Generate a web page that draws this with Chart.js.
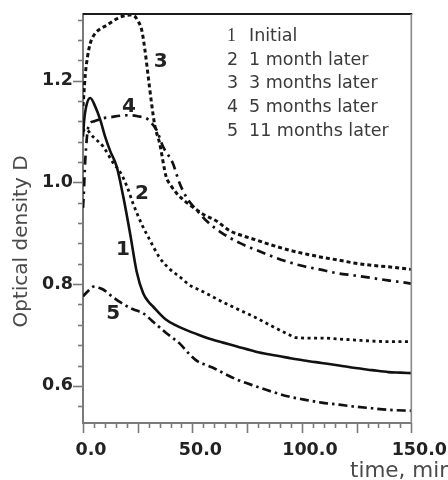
<!DOCTYPE html>
<html>
<head>
<meta charset="utf-8">
<script src="https://cdn.jsdelivr.net/npm/chart.js@4"></script>
<style>
html,body{margin:0;padding:0;background:#fff;}
#c{display:block;}
</style>
</head>
<body>
<canvas id="c" width="448" height="480"></canvas>
<script>
// ---- data (time in min, optical density D) ----
const seriesNames = ["Initial", "1 month later", "3 months later", "5 months later", "11 months later"];
const seriesNumbers = ["1", "2", "3", "4", "5"];

const t1 = [0, 0.5, 1.5, 3.3, 5.6, 7.9, 10.1, 12.4, 15.4, 18.4, 21.5, 24.5, 27.5, 30, 32, 35, 38, 42, 47, 53, 59, 64, 70, 79, 86, 94, 101, 109, 117, 124.5, 132, 139.5, 145, 150];
const d1 = [1.09, 1.12, 1.15, 1.166, 1.149, 1.123, 1.09, 1.062, 1.031, 0.972, 0.9, 0.825, 0.782, 0.765, 0.756, 0.742, 0.73, 0.72, 0.71, 0.70, 0.691, 0.685, 0.678, 0.667, 0.661, 0.655, 0.65, 0.645, 0.64, 0.635, 0.631, 0.627, 0.626, 0.625];

const t2 = [0, 1, 4.7, 9.3, 13.8, 17, 20, 23, 26.8, 30.5, 35, 40, 44, 48.7, 53, 58, 63.7, 70, 79, 86, 94, 97, 103, 109, 117, 124.5, 132, 139.5, 150];
const d2 = [1.1, 1.105, 1.089, 1.07, 1.038, 1.02, 0.993, 0.957, 0.918, 0.887, 0.852, 0.828, 0.815, 0.798, 0.789, 0.778, 0.765, 0.752, 0.734, 0.718, 0.701, 0.695, 0.694, 0.694, 0.692, 0.69, 0.688, 0.687, 0.687];

const t3 = [0, 0.5, 1, 2, 3.3, 5.6, 8, 10.9, 14, 17, 19.5, 21.5, 23.5, 25, 26.8, 28.3, 29.8, 31.3, 32.8, 35, 38, 40, 42.7, 46, 50, 55, 61, 67, 73, 79, 86, 94, 101, 109, 117, 124.5, 132, 139.5, 150];
const d3 = [1.15, 1.18, 1.21, 1.245, 1.273, 1.293, 1.302, 1.309, 1.318, 1.325, 1.328, 1.329, 1.327, 1.318, 1.3, 1.26, 1.208, 1.156, 1.112, 1.077, 1.011, 0.995, 0.979, 0.965, 0.952, 0.937, 0.924, 0.905, 0.895, 0.887, 0.877, 0.867, 0.86, 0.853, 0.847, 0.841, 0.837, 0.834, 0.829];

const t4 = [0, 0.3, 1, 2.5, 5, 9, 12.4, 17, 21, 25, 29, 31, 33.6, 36.6, 41, 44, 47.2, 52, 57, 63.7, 71.5, 78, 85, 92, 100, 108, 115.5, 124, 132, 140, 148.6, 150];
const d4 = [0.95, 0.972, 1.041, 1.11, 1.12, 1.126, 1.128, 1.131, 1.132, 1.13, 1.126, 1.118, 1.103, 1.07, 1.038, 1.0, 0.971, 0.945, 0.922, 0.9, 0.881, 0.869, 0.857, 0.846, 0.836, 0.829, 0.822, 0.817, 0.812, 0.807, 0.802, 0.801];

const t5 = [0, 2, 4.8, 7, 9.4, 12, 15.4, 18, 21.5, 24.5, 27.4, 30, 32, 35, 38, 41, 44, 48.7, 52.4, 56.3, 59.2, 63.7, 70, 79, 86, 94, 101, 109, 117, 124.5, 132, 139.5, 150];
const d5 = [0.776, 0.785, 0.795, 0.793, 0.789, 0.78, 0.769, 0.762, 0.753, 0.748, 0.743, 0.734, 0.726, 0.715, 0.704, 0.694, 0.684, 0.662, 0.648, 0.641, 0.636, 0.626, 0.613, 0.599, 0.589, 0.579, 0.573, 0.567, 0.563, 0.559, 0.556, 0.553, 0.551];

// tick labels
const xTickLabels = [0, 50, 100, 150];
const yTickLabels = [0.6, 0.8, 1.0, 1.2];

// curve number annotations (anchor in data units)
const curveLabelT = [18.3, 26.9, 35.5, 21, 13.8];
const curveLabelD = [0.871, 0.981, 1.241, 1.152, 0.746];

const toXY = (t, d) => t.map((v, i) => ({x: v, y: d[i]}));

const styles = [
  {borderDash: [], borderWidth: 2.6},
  {borderDash: [3, 3.5], borderWidth: 2.8},
  {borderDash: [4, 3], borderWidth: 3},
  {borderDash: [9, 5, 2.5, 5], borderWidth: 2.7},
  {borderDash: [9, 4, 2.5, 4], borderWidth: 2.7}
];
const allT = [t1, t2, t3, t4, t5];
const allD = [d1, d2, d3, d4, d5];

const datasets = allT.map((t, i) => Object.assign({
  label: seriesNames[i],
  data: toXY(t, allD[i]),
  borderColor: '#111',
  backgroundColor: '#111',
  pointRadius: 0,
  fill: false,
  cubicInterpolationMode: 'monotone',
  borderCapStyle: 'butt'
}, styles[i]));

const tickFont = {family: 'DejaVu Sans', weight: 'bold', size: 17.5};

const decor = {
  id: 'decor',
  afterDraw(chart) {
    const ctx = chart.ctx;
    const a = chart.chartArea;
    const xs = chart.scales.x, ys = chart.scales.y;
    ctx.save();
    // top frame line
    ctx.strokeStyle = '#1a1a1a';
    ctx.lineWidth = 2.2;
    ctx.beginPath(); ctx.moveTo(a.left, a.top); ctx.lineTo(a.right + 1, a.top); ctx.stroke();
    // right frame line
    ctx.strokeStyle = '#8a8a8a';
    ctx.lineWidth = 1.6;
    ctx.beginPath(); ctx.moveTo(a.right, a.top); ctx.lineTo(a.right, a.bottom); ctx.stroke();
    // y ticks (minor every 0.04, major every 0.2)
    ctx.strokeStyle = '#7a7a7a';
    ctx.lineWidth = 1.6;
    for (let k = -1; k <= 18; k++) {
      const v = 0.6 + k * 0.04;
      if (v < ys.min - 1e-9 || v > ys.max + 1e-9) continue;
      const major = (k % 5 === 0);
      const py = Math.round(ys.getPixelForValue(v)) + 0.5;
      ctx.beginPath(); ctx.moveTo(a.left - (major ? 10 : 5), py); ctx.lineTo(a.left, py); ctx.stroke();
    }
    // x ticks (minor every 5, major every 25)
    for (let v = 0; v <= 150; v += 5) {
      const major = (v % 25 === 0);
      const px = Math.round(xs.getPixelForValue(v)) + 0.5;
      ctx.beginPath(); ctx.moveTo(px, a.bottom); ctx.lineTo(px, a.bottom + (major ? 10 : 5)); ctx.stroke();
    }
    // curve number labels
    ctx.fillStyle = '#222';
    ctx.font = 'bold 20px "DejaVu Sans"';
    ctx.textAlign = 'center';
    ctx.textBaseline = 'alphabetic';
    for (let i = 0; i < 5; i++) {
      ctx.fillText(seriesNumbers[i], xs.getPixelForValue(curveLabelT[i]), ys.getPixelForValue(curveLabelD[i]) + 7.3);
    }
    // legend text
    ctx.fillStyle = '#3a3a3a';
    ctx.textAlign = 'left';
    const baseY = [40.5, 65.3, 88.3, 112, 135.5];
    for (let i = 0; i < 5; i++) {
      ctx.font = i === 0 ? '18px "Liberation Serif"' : '17.5px "DejaVu Sans"';
      ctx.fillText(seriesNumbers[i], 227, baseY[i]);
      ctx.font = '17.5px "DejaVu Sans"';
      ctx.fillText(seriesNames[i], 249, baseY[i]);
    }
    // axis titles
    ctx.fillStyle = '#4a4a4a';
    ctx.font = '20px "DejaVu Sans"';
    ctx.save();
    ctx.translate(27, 241.5);
    ctx.rotate(-Math.PI / 2);
    ctx.textAlign = 'center';
    ctx.fillText('Optical density D', 0, 0);
    ctx.restore();
    ctx.font = '21.5px "DejaVu Sans"';
    ctx.textAlign = 'left';
    ctx.fillText('time, min', 350, 477);
    ctx.restore();
  }
};

new Chart(document.getElementById('c'), {
  type: 'line',
  data: {datasets},
  options: {
    responsive: false,
    animation: false,
    layout: {padding: {left: 0, right: 35, top: 14, bottom: 0}},
    plugins: {legend: {display: false}, tooltip: {enabled: false}},
    scales: {
      x: {
        type: 'linear', min: 0, max: 150,
        afterFit: s => { s.height = 57; },
        afterBuildTicks: s => { s.ticks = xTickLabels.map(v => ({value: v})); },
        grid: {display: false},
        border: {display: true, color: '#7a7a7a', width: 2},
        ticks: {
          font: tickFont, color: '#222', padding: 9, labelOffset: 8,
          maxRotation: 0, autoSkip: false,
          callback: v => Number(v).toFixed(1)
        }
      },
      y: {
        type: 'linear', min: 0.527, max: 1.331,
        afterFit: s => { s.width = 83; },
        afterBuildTicks: s => { s.ticks = yTickLabels.map(v => ({value: v})); },
        grid: {display: false},
        border: {display: true, color: '#7a7a7a', width: 2},
        ticks: {
          font: tickFont, color: '#222', padding: 2,
          autoSkip: false,
          callback: v => Number(v).toFixed(1)
        }
      }
    }
  },
  plugins: [decor]
});
</script>
</body>
</html>
